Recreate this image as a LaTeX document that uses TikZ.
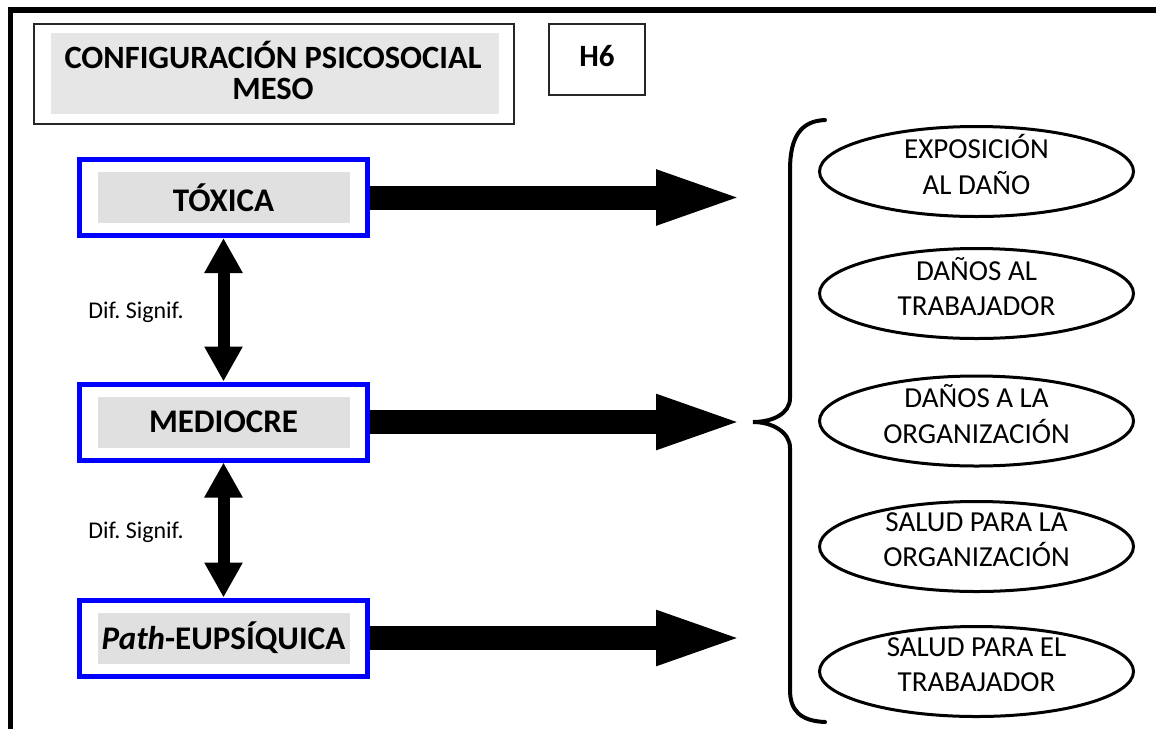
\documentclass[tikz,border=0pt]{standalone}
\usepackage{fontspec}
\setmainfont{Carlito}
\usetikzlibrary{shapes.geometric,arrows.meta,calc}

\definecolor{titlefill}{HTML}{E6E6E6}
\definecolor{tagfill}{HTML}{E0E0E0}
\definecolor{boxblue}{HTML}{0000FF}
\frenchspacing

\begin{document}
\begin{tikzpicture}[x=1pt,y=-1pt,
  outerframe/.style={line width=5.5pt,line join=miter},
  titlebox/.style={draw=black!85,line width=2pt,minimum width=480pt,minimum height=100pt,inner sep=0pt},
  titletag/.style={fill=titlefill,minimum width=448pt,minimum height=81pt,inner sep=0pt},
  titletext/.style={align=center,inner sep=0pt,font=\fontsize{32.5}{31}\selectfont\bfseries},
  hbox/.style={draw=black!85,line width=2pt,minimum width=96pt,minimum height=71pt,inner sep=0pt},
  htext/.style={inner sep=0pt,font=\fontsize{31}{34}\selectfont\bfseries},
  bluebox/.style={draw=boxblue,line width=5pt,minimum width=288pt,minimum height=76pt,inner sep=0pt},
  tag/.style={fill=tagfill,minimum width=252pt,minimum height=51pt,inner sep=0pt,
    font=\fontsize{33}{36}\selectfont\bfseries},
  bigarrow/.style={line width=24pt,-{Triangle[length=91pt,width=48pt]}},
  dblarrow/.style={line width=12pt,{Triangle[length=35pt,width=36pt]}-{Triangle[length=35pt,width=36pt]}},
  difftext/.style={font=\fontsize{24}{28}\selectfont,inner sep=0pt},
  outcome/.style={draw,ellipse,line width=3pt,minimum width=314pt,minimum height=90pt,inner sep=0pt},
  outcometext/.style={align=center,inner sep=0pt,font=\fontsize{29}{35.5}\selectfont},
  brace/.style={line width=4pt,line cap=round}
]
\fill[white] (0,0) rectangle (1156,729);
\useasboundingbox (0,0) rectangle (1156,729);

% page frame (top and left rules)
\draw[outerframe] (10.5,729) -- (10.5,10) -- (1156,10);

% heading boxes
\node[titlebox] (title) at (274,74) {};
\node[titletag] (titletag) at (275,73.5) {};
\node[titletext] (titletxt) at (273,70) {CONFIGURACIÓN PSICOSOCIAL\\MESO};
\node[hbox] (hyp) at (597,59.5) {};
\node[htext] (hyptxt) at (597,56.5) {H6};

% configurations
\node[bluebox] (tox) at (223.5,197.5) {};
\node[tag] (toxtag) at (tox.center) {TÓXICA};
\node[bluebox] (med) at (223.5,422) {};
\node[tag] (medtag) at (med.center) {MEDIOCRE};
\node[bluebox] (eup) at (223.5,638) {};
\node[tag] (euptag) at (eup.center) {\textit{Path}-EUPSÍQUICA};

% significant differences between configurations
\draw[dblarrow] (tox.south) -- (med.north);
\draw[dblarrow] (med.south) -- (eup.north);
\node[difftext] (dif1) at (136,312) {Dif. Signif.};
\node[difftext] (dif2) at (136,532) {Dif. Signif.};

% arrows towards the outcomes
\coordinate (tip1) at (747,197.5);
\coordinate (tip2) at (747,422);
\coordinate (tip3) at (747,638);
\draw[bigarrow] (tox.east) -- (tip1);
\draw[bigarrow] (med.east) -- (tip2);
\draw[bigarrow] (eup.east) -- (tip3);

% curly brace grouping the outcomes
\draw[brace] (825,120) .. controls (800,121) and (790,138) .. (790,170)
  -- (790,398) .. controls (790,414) and (772,422) .. (753,422)
  .. controls (772,422) and (790,432) .. (790,448)
  -- (790,690) .. controls (790,710) and (800,721) .. (825,722);

% outcomes
\node[outcome] (o1) at (976.5,171.5) {};
\node[outcome] (o2) at (976.5,293.5) {};
\node[outcome] (o3) at (976.5,421) {};
\node[outcome] (o4) at (976.5,546.5) {};
\node[outcome] (o5) at (976.5,671.5) {};
\node[outcometext] (t1) at ([yshift=7pt]o1.center) {EXPOSICIÓN\\AL DAÑO};
\node[outcometext] (t2) at ([yshift=7pt]o2.center) {DAÑOS AL\\TRABAJADOR};
\node[outcometext] (t3) at ([yshift=7pt]o3.center) {DAÑOS A LA\\ORGANIZACIÓN};
\node[outcometext] (t4) at ([yshift=7pt]o4.center) {SALUD PARA LA\\ORGANIZACIÓN};
\node[outcometext] (t5) at ([yshift=7pt]o5.center) {SALUD PARA EL\\TRABAJADOR};
\end{tikzpicture}
\end{document}
